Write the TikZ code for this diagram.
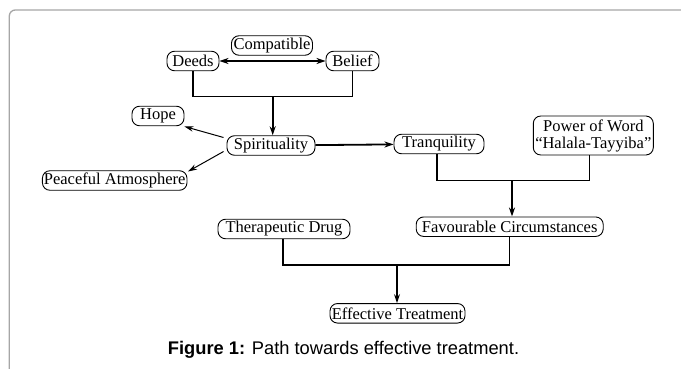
\documentclass[tikz,border=0pt]{standalone}
\usepackage{fontspec}
\setmainfont{Liberation Serif}
\newfontfamily\capfont{Liberation Sans}
\usetikzlibrary{arrows.meta}
\begin{document}
\begin{tikzpicture}[x=1pt,y=-1pt,
  box/.style={draw, line width=0.9pt, rounded corners=7.5pt, fill=white,
    inner xsep=1.5pt, inner ysep=1pt, minimum height=19.5pt,
    font=\fontsize{16.5}{17}\selectfont},
  tree/.style={line width=1.1pt},
  thick arrow/.style={line width=1.8pt, -{Stealth[length=9pt,width=6pt]}},
  thin arrow/.style={line width=1pt, -{Stealth[length=9pt,width=5.5pt]}}]
\useasboundingbox (0,0) rectangle (681,369);
\draw[gray!70, line width=1.3pt, rounded corners=6pt] (9.3,369) -- (9.3,10) -- (681,10);

\node[box, minimum width=81pt] (compat) at (272,45.5) {Compatible};
\node[box, minimum width=52pt] (deeds) at (193,61) {Deeds};
\node[box, minimum width=53pt] (belief) at (352.5,61) {Belief};
\node[box, minimum width=52pt] (hope) at (158,116) {Hope};
\node[box, minimum width=88pt] (spirit) at (271,145.5) {Spirituality};
\node[box, minimum width=144pt] (peace) at (114.7,180.5) {Peaceful Atmosphere};
\node[box, minimum width=90pt] (tranq) at (439,144) {Tranquility};
\node[box, minimum width=120pt, minimum height=39pt, align=center] (power) at (593.3,135.5) {Power of Word\\“Halala-Tayyiba”};
\node[box, minimum width=187pt] (fav) at (509.7,226.7) {Favourable Circumstances};
\node[box, minimum width=132pt] (thera) at (284,229) {Therapeutic Drug};
\node[box, minimum width=135pt] (eff) at (397.5,313.3) {Effective Treatment};

\node[font=\capfont\fontsize{18.3}{20}\selectfont, anchor=base] (cap) at (343.5,354)
  {\textbf{Figure 1:} Path towards effective treatment.};

\coordinate (j1) at (272.7,96.7);
\coordinate (j2) at (512,180.7);
\coordinate (j3) at (397,265);

\draw[line width=1.8pt, {Stealth[length=9pt,width=6pt]}-{Stealth[length=9pt,width=6pt]}] (deeds) -- (belief);
\draw[tree] (deeds.south) |- (j1) -| (belief.south);
\draw[thick arrow] (j1) -- (j1 |- spirit.north);
\draw[thin arrow] (spirit.west) ++(-3,-8) coordinate (s1) -- (hope.east |- 0,126.5);
\draw[thin arrow] (spirit.west) ++(-3,6) coordinate (s2) -- (188,171.5);
\draw[thick arrow] (spirit) -- (tranq);
\draw[tree] ([xshift=-2pt]tranq.south) |- (j2) -| ([xshift=-4pt]power.south);
\draw[thick arrow] (j2) -- (j2 |- fav.north);
\draw[tree] ([xshift=-1pt]thera.south) |- (j3) -| (fav.south);
\draw[thick arrow] (j3) -- (j3 |- eff.north);
\end{tikzpicture}
\end{document}
